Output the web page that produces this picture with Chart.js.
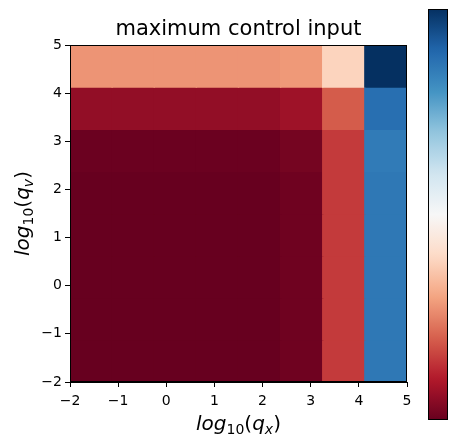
<!DOCTYPE html>
<html><head><meta charset="utf-8">
<script src="https://cdn.jsdelivr.net/npm/chart.js@4/dist/chart.umd.min.js"></script>
<style>html,body{margin:0;padding:0;background:#fff;overflow:hidden}</style>
</head><body>
<canvas id="c" width="449" height="443"></canvas>
<script>
// ---- data ----
const logQx = [-2, -1, 0, 1, 2, 3, 4, 5];
const logQv = [-2, -1, 0, 1, 2, 3, 4, 5];
// normalized maximum control input (0 = colormap min, 1 = max); rows by log10(qv) ascending, columns by log10(qx)
const rowQvM2 = [0.000, 0.000, 0.000, 0.000, 0.000, 0.010, 0.147, 0.860];
const rowQvM1 = [0.000, 0.000, 0.000, 0.000, 0.000, 0.010, 0.147, 0.860];
const rowQv0  = [0.000, 0.000, 0.000, 0.000, 0.000, 0.010, 0.147, 0.860];
const rowQv1  = [0.000, 0.000, 0.000, 0.000, 0.000, 0.010, 0.147, 0.860];
const rowQv2  = [0.000, 0.000, 0.000, 0.000, 0.000, 0.010, 0.147, 0.860];
const rowQv3  = [0.005, 0.005, 0.005, 0.005, 0.005, 0.019, 0.147, 0.853];
const rowQv4  = [0.057, 0.057, 0.057, 0.057, 0.057, 0.073, 0.195, 0.880];
const rowQv5  = [0.275, 0.275, 0.275, 0.275, 0.275, 0.282, 0.387, 1.000];
const maxInputRows = [rowQvM2, rowQvM1, rowQv0, rowQv1, rowQv2, rowQv3, rowQv4, rowQv5];
const xTickValues = [-2, -1, 0, 1, 2, 3, 4, 5];
const yTickValues = [-2, -1, 0, 1, 2, 3, 4, 5];
const chartTitle = 'maximum control input';
const xLabelParts = [['log','i',0],['10','r',1],['(','r',0],['q','i',0],['x','i',1],[')','r',0]];
const yLabelParts = [['log','i',0],['10','r',1],['(','r',0],['q','i',0],['v','i',1],[')','r',0]];

// ---- RdBu colormap ----
const RDBU = ['#67001f','#b2182b','#d6604d','#f4a582','#fddbc7','#f7f7f7','#d1e5f0','#92c5de','#4393c3','#2166ac','#053061'];
function hex(h){return [parseInt(h.slice(1,3),16),parseInt(h.slice(3,5),16),parseInt(h.slice(5,7),16)];}
function rdbu(t){
  t = Math.max(0, Math.min(1, t));
  const p = t * (RDBU.length - 1);
  const i = Math.min(Math.floor(p), RDBU.length - 2);
  const f = p - i;
  const a = hex(RDBU[i]), b = hex(RDBU[i+1]);
  const c = a.map((v,k)=>Math.round(v + (b[k]-v)*f));
  return 'rgb(' + c.join(',') + ')';
}

// image extent (imshow-like): cells stretched over [-2,5] x [-2,5]
const ext = {x0: -2, x1: 5, y0: -2, y1: 5};
const cw = (ext.x1 - ext.x0) / logQx.length;
const ch = (ext.y1 - ext.y0) / logQv.length;
const cells = [], colors = [];
logQv.forEach((qv, r) => {
  logQx.forEach((qx, c) => {
    cells.push({x: ext.x0 + (c + 0.5) * cw, y: [ext.y0 + r * ch, ext.y0 + (r + 1) * ch], qx: qx, qv: qv});
    colors.push(rdbu(maxInputRows[r][c]));
  });
});

const fmt = v => (v < 0 ? '\u2212' + Math.abs(v) : String(v));

function drawMath(ctx, parts, size) {
  let w = 0;
  const fontFor = p => (p[1] === 'i' ? 'italic ' : '') + (p[2] ? size * 0.7 : size) + 'px "DejaVu Sans"';
  parts.forEach(p => { ctx.font = fontFor(p); w += ctx.measureText(p[0]).width; });
  let x = -w / 2;
  ctx.textAlign = 'left'; ctx.textBaseline = 'alphabetic';
  parts.forEach(p => {
    ctx.font = fontFor(p);
    ctx.fillText(p[0], x, p[2] ? size * 0.22 : 0);
    x += ctx.measureText(p[0]).width;
  });
}

const extras = {
  id: 'extras',
  afterDatasetsDraw(chart) {
    const ctx = chart.ctx, a = chart.chartArea;
    ctx.save();
    ctx.strokeStyle = '#000'; ctx.lineWidth = 1;
    ctx.strokeRect(Math.round(a.left) + 0.5, Math.round(a.top) + 0.5, Math.round(a.right - a.left) - 1, Math.round(a.bottom - a.top) - 1);
    ctx.restore();
  },
  afterDraw(chart) {
    const ctx = chart.ctx, a = chart.chartArea;
    ctx.save();
    ctx.fillStyle = '#000';
    // x axis label
    ctx.save(); ctx.translate((a.left + a.right) / 2, 430); drawMath(ctx, xLabelParts, 20); ctx.restore();
    // y axis label
    ctx.save(); ctx.translate(29, (a.top + a.bottom) / 2); ctx.rotate(-Math.PI / 2); drawMath(ctx, yLabelParts, 20); ctx.restore();
    // colorbar
    const cbL = 428, cbR = 448, cbT = 9, cbB = 420;
    const g = ctx.createLinearGradient(0, cbB, 0, cbT);
    for (let i = 0; i <= 64; i++) g.addColorStop(i / 64, rdbu(i / 64));
    ctx.fillStyle = g;
    ctx.fillRect(cbL, cbT, cbR - cbL, cbB - cbT);
    ctx.strokeStyle = '#000'; ctx.lineWidth = 1;
    ctx.strokeRect(cbL + 0.5, cbT + 0.5, cbR - cbL - 1, cbB - cbT - 1);
    ctx.restore();
  }
};

new Chart(document.getElementById('c'), {
  type: 'bar',
  data: {
    datasets: [{
      label: 'maximum control input',
      data: cells,
      backgroundColor: colors,
      borderWidth: 0,
      inflateAmount: 0.7,
      barPercentage: 1,
      categoryPercentage: 1
    }]
  },
  options: {
    responsive: false,
    animation: false,
    devicePixelRatio: 1,
    layout: {padding: {left: 0, right: 42, top: 0, bottom: 0}},
    plugins: {
      legend: {display: false},
      tooltip: {enabled: false},
      title: {
        display: true, text: chartTitle, fullSize: false,
        color: '#000', font: {family: 'DejaVu Sans', size: 21, weight: 'normal'},
        padding: {top: 17.4, bottom: 2.4}
      }
    },
    scales: {
      x: {
        type: 'linear', min: -2, max: 5, offset: false,
        afterFit: s => { s.height = 61; },
        afterBuildTicks: s => { s.ticks = xTickValues.map(v => ({value: v})); },
        ticks: {color: '#000', font: {family: 'DejaVu Sans', size: 14}, padding: 6, maxRotation: 0, callback: fmt},
        grid: {display: true, drawOnChartArea: false, drawTicks: true, tickLength: 5, color: '#000', offset: false},
        border: {display: true, color: '#000'}
      },
      y: {
        type: 'linear', min: -2, max: 5,
        afterFit: s => { s.width = 70; },
        afterBuildTicks: s => { s.ticks = yTickValues.map(v => ({value: v})); },
        ticks: {color: '#000', font: {family: 'DejaVu Sans', size: 14}, padding: 3, callback: fmt},
        grid: {display: true, drawOnChartArea: false, drawTicks: true, tickLength: 5, color: '#000'},
        border: {display: true, color: '#000'}
      }
    }
  },
  plugins: [extras]
});
</script>
</body></html>
